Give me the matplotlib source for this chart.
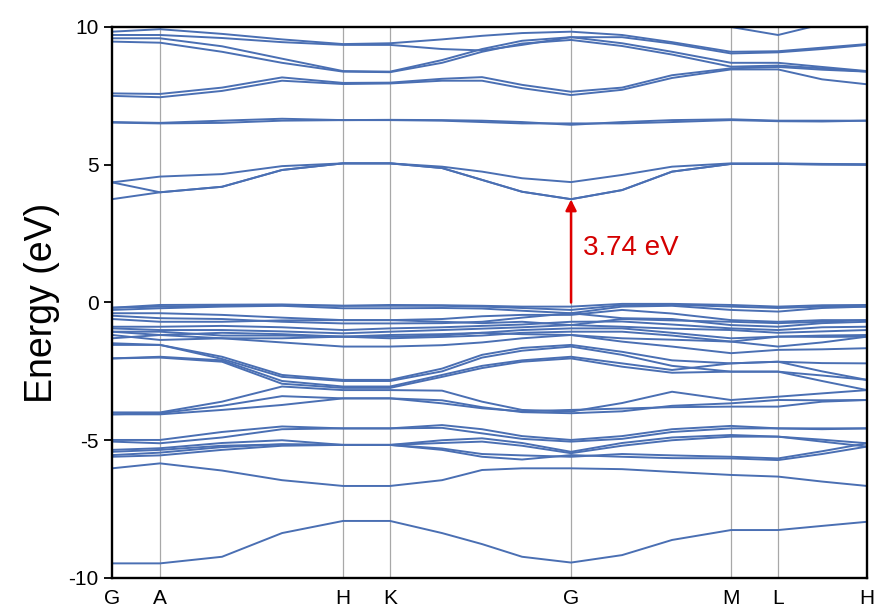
import matplotlib
matplotlib.use('Agg')
import matplotlib.pyplot as plt

plt.rcParams['font.family'] = ['Liberation Sans', 'DejaVu Sans']
plt.rcParams['axes.unicode_minus'] = False

# high symmetry path
labels = ['G', 'A', 'H', 'K', 'G', 'M', 'L', 'H']
label_k = [0.0, 0.48, 2.31, 2.78, 4.59, 6.19, 6.66, 7.55]

# k-points where band energies were read (sym points + a few in between)
k_pts = [0.0, 0.48, 1.10, 1.70, 2.31, 2.78, 3.30, 3.70, 4.10, 4.59,
         5.10, 5.60, 6.19, 6.66, 7.10, 7.55]

gap = 3.74

# conduction bands (eV)
cond_low = [
    [3.75, 4.00, 4.20, 4.81, 5.05, 5.05, 4.88, 4.45, 4.02, 3.75, 4.08, 4.75, 5.03, 5.03, 5.01, 5.00],
    [4.36, 4.00, 4.20, 4.81, 5.05, 5.05, 4.88, 4.45, 4.02, 3.75, 4.08, 4.75, 5.03, 5.03, 5.01, 5.00],
    [4.36, 4.57, 4.66, 4.95, 5.05, 5.05, 4.93, 4.75, 4.51, 4.37, 4.63, 4.93, 5.05, 5.05, 5.03, 5.02],
]
cond_flat = [
    [6.53, 6.50, 6.52, 6.60, 6.62, 6.62, 6.60, 6.55, 6.50, 6.50, 6.50, 6.55, 6.62, 6.58, 6.57, 6.60],
    [6.55, 6.52, 6.60, 6.67, 6.62, 6.63, 6.62, 6.60, 6.55, 6.45, 6.55, 6.62, 6.65, 6.60, 6.60, 6.60],
]
cond_high = [
    [7.50, 7.45, 7.68, 8.05, 7.93, 7.95, 8.05, 8.05, 7.78, 7.53, 7.72, 8.15, 8.46, 8.46, 8.10, 7.92],
    [7.59, 7.57, 7.80, 8.17, 7.97, 7.98, 8.12, 8.18, 7.90, 7.65, 7.80, 8.25, 8.50, 8.55, 8.45, 8.38],
    [9.47, 9.43, 9.10, 8.70, 8.38, 8.36, 8.70, 9.10, 9.40, 9.53, 9.31, 9.00, 8.56, 8.60, 8.50, 8.38],
    [9.59, 9.59, 9.30, 8.85, 8.40, 8.38, 8.80, 9.20, 9.50, 9.63, 9.41, 9.10, 8.70, 8.70, 8.55, 8.40],
    [9.71, 9.71, 9.60, 9.45, 9.35, 9.35, 9.20, 9.15, 9.35, 9.63, 9.63, 9.40, 9.04, 9.08, 9.20, 9.35],
    [9.83, 9.92, 9.75, 9.55, 9.38, 9.41, 9.55, 9.68, 9.78, 9.83, 9.71, 9.45, 9.10, 9.12, 9.25, 9.38],
    [10.3, 10.3, 10.3, 10.3, 10.3, 10.2, 10.05, 10.0, 10.1, 10.2, 10.1, 10.0, 10.0, 9.71, 10.1, 10.3],
]

# valence bands (eV)
val_top = [
    [-0.19, -0.09, -0.08, -0.07, -0.12, -0.09, -0.10, -0.12, -0.15, -0.15, -0.05, -0.05, -0.09, -0.15, -0.10, -0.09],
    [-0.19, -0.15, -0.12, -0.10, -0.12, -0.12, -0.12, -0.15, -0.20, -0.27, -0.10, -0.08, -0.15, -0.20, -0.15, -0.15],
    [-0.27, -0.21, -0.15, -0.12, -0.21, -0.21, -0.20, -0.22, -0.30, -0.39, -0.15, -0.12, -0.27, -0.33, -0.20, -0.15],
    [-0.39, -0.39, -0.45, -0.55, -0.64, -0.64, -0.60, -0.50, -0.45, -0.45, -0.27, -0.40, -0.64, -0.70, -0.64, -0.64],
    [-0.48, -0.57, -0.60, -0.70, -0.76, -0.76, -0.75, -0.70, -0.55, -0.39, -0.57, -0.60, -0.82, -0.88, -0.75, -0.70],
    [-0.60, -0.70, -0.70, -0.65, -0.64, -0.64, -0.70, -0.75, -0.70, -0.82, -0.60, -0.65, -0.70, -0.75, -0.70, -0.64],
    [-0.88, -0.88, -0.85, -0.90, -1.00, -0.94, -0.90, -0.85, -0.80, -0.70, -0.69, -0.80, -0.94, -1.00, -0.90, -0.88],
    [-0.94, -1.00, -1.00, -1.05, -1.12, -1.06, -1.00, -0.95, -0.90, -0.82, -0.88, -0.95, -1.00, -1.10, -1.05, -1.00],
    [-1.06, -1.18, -1.10, -1.15, -1.24, -1.18, -1.15, -1.10, -1.00, -0.94, -0.94, -1.10, -1.30, -1.24, -1.20, -1.18],
    [-1.06, -1.06, -1.20, -1.20, -1.24, -1.24, -1.20, -1.10, -1.15, -1.18, -1.30, -1.35, -1.42, -1.24, -1.25, -1.24],
    [-1.18, -1.36, -1.30, -1.30, -1.24, -1.30, -1.25, -1.20, -1.10, -1.06, -1.06, -1.20, -1.42, -1.60, -1.45, -1.24],
    [-1.30, -1.18, -1.30, -1.45, -1.60, -1.60, -1.55, -1.45, -1.30, -1.18, -1.42, -1.60, -1.84, -1.72, -1.70, -1.66],
]
val_mid = [
    [-1.48, -1.54, -1.97, -2.63, -2.81, -2.81, -2.40, -1.90, -1.65, -1.54, -1.79, -2.10, -2.21, -2.15, -2.20, -2.21],
    [-1.54, -1.54, -2.05, -2.70, -2.85, -2.85, -2.50, -2.00, -1.75, -1.60, -1.90, -2.30, -2.51, -2.51, -2.65, -2.81],
    [-2.03, -1.97, -2.10, -2.85, -3.05, -3.05, -2.63, -2.30, -2.10, -1.97, -2.21, -2.45, -2.21, -2.15, -2.50, -2.81],
    [-2.03, -2.00, -2.15, -2.95, -3.10, -3.10, -2.70, -2.38, -2.15, -2.03, -2.33, -2.55, -2.51, -2.51, -2.85, -3.18],
    [-3.99, -3.99, -3.60, -3.05, -3.18, -3.18, -3.20, -3.60, -3.90, -3.96, -3.65, -3.24, -3.54, -3.42, -3.30, -3.18],
    [-4.06, -4.02, -3.75, -3.40, -3.48, -3.48, -3.55, -3.80, -3.98, -4.02, -3.95, -3.75, -3.66, -3.54, -3.55, -3.54],
    [-4.06, -4.06, -3.90, -3.72, -3.48, -3.48, -3.66, -3.84, -3.95, -3.90, -3.85, -3.80, -3.78, -3.78, -3.60, -3.54],
]
val_low = [
    [-4.99, -4.99, -4.70, -4.50, -4.57, -4.57, -4.45, -4.60, -4.85, -4.99, -4.85, -4.60, -4.48, -4.57, -4.57, -4.57],
    [-5.05, -5.11, -4.90, -4.60, -4.57, -4.57, -4.55, -4.75, -4.95, -5.05, -4.95, -4.70, -4.57, -4.57, -4.60, -4.57],
    [-5.35, -5.29, -5.10, -5.00, -5.17, -5.17, -5.00, -4.93, -5.10, -5.42, -5.10, -4.90, -4.81, -4.87, -4.98, -5.11],
    [-5.42, -5.35, -5.20, -5.15, -5.17, -5.17, -5.10, -5.05, -5.20, -5.47, -5.20, -5.00, -4.87, -4.87, -5.05, -5.23],
    [-5.54, -5.45, -5.25, -5.15, -5.17, -5.17, -5.35, -5.60, -5.70, -5.54, -5.60, -5.65, -5.66, -5.72, -5.50, -5.23],
    [-5.60, -5.55, -5.35, -5.20, -5.17, -5.17, -5.30, -5.50, -5.55, -5.60, -5.50, -5.55, -5.60, -5.66, -5.40, -5.11],
    [-6.02, -5.84, -6.10, -6.45, -6.66, -6.66, -6.45, -6.08, -6.02, -6.02, -6.05, -6.15, -6.26, -6.32, -6.50, -6.66],
]
val_bottom = [
    [-9.47, -9.47, -9.23, -8.37, -7.93, -7.93, -8.37, -8.77, -9.23, -9.44, -9.17, -8.62, -8.26, -8.26, -8.11, -7.96],
]

band_color = '#4a6fb3'

fig = plt.figure(figsize=(8.8, 6.15), dpi=100)
ax = fig.add_axes([0.1273, 0.0602, 0.8580, 0.8959])

for k in label_k[1:-1]:
    ax.axvline(k, color='#a8a8a8', lw=0.9, zorder=1)

for group in (cond_low, cond_flat, cond_high, val_top, val_mid, val_low, val_bottom):
    for band in group:
        ax.plot(k_pts, band, color=band_color, lw=1.4, zorder=2)

# band gap arrow at G
ax.annotate('', xy=(label_k[4], gap), xytext=(label_k[4], 0.0),
            arrowprops=dict(arrowstyle='-|>', color='#e00000', lw=1.8,
                            mutation_scale=16, shrinkA=0, shrinkB=0), zorder=5)
ax.text(label_k[4] + 0.12, 1.98, f'{gap:.2f} eV', color='#d40000', fontsize=20,
        va='center', ha='left')

ax.set_xlim(label_k[0], label_k[-1])
ax.set_ylim(-10, 10)
ax.set_xticks(label_k)
ax.set_xticklabels(labels)
ax.set_yticks([-10, -5, 0, 5, 10])
ax.tick_params(axis='x', length=0, labelsize=15, pad=8)
ax.tick_params(axis='y', direction='out', length=6, width=1.3, labelsize=15)
ax.set_ylabel('Energy (eV)', fontsize=27, labelpad=6)
for s in ax.spines.values():
    s.set_linewidth(1.7)

fig.savefig('out.png', dpi=100)
